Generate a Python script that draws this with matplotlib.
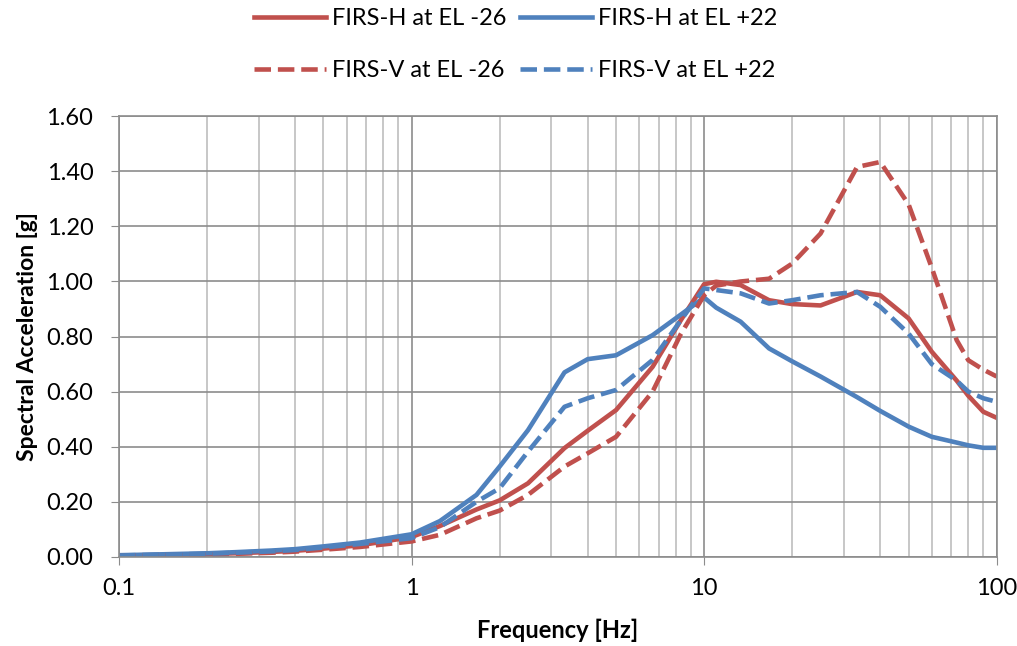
import numpy as np
import matplotlib
matplotlib.use("Agg")
import matplotlib.pyplot as plt
from matplotlib.ticker import FixedLocator, LogLocator, NullFormatter, FuncFormatter

plt.rcParams['font.family'] = ['Lato', 'DejaVu Sans']

# frequencies [Hz]
freq = [0.1, 0.125, 0.2, 0.25, 0.333, 0.4, 0.5, 0.667, 1.0, 1.25, 1.667, 2.0, 2.5,
        3.333, 4.0, 5.0, 6.667, 8.333, 10.0, 11.0, 13.33, 16.67, 20.0, 25.0, 33.33,
        40.0, 50.0, 60.0, 73.0, 80.0, 90.0, 100.0]

# spectral acceleration [g]
h_low = [0.005, 0.006, 0.010, 0.013, 0.018, 0.022, 0.030, 0.042, 0.072, 0.112, 0.172, 0.205,
         0.267, 0.395, 0.458, 0.533, 0.690, 0.860, 0.990, 0.999, 0.987, 0.932, 0.918, 0.913,
         0.962, 0.950, 0.866, 0.745, 0.640, 0.585, 0.527, 0.505]
h_up = [0.006, 0.008, 0.013, 0.017, 0.023, 0.028, 0.038, 0.052, 0.082, 0.130, 0.225, 0.328,
        0.460, 0.670, 0.718, 0.732, 0.805, 0.880, 0.942, 0.905, 0.854, 0.757, 0.710, 0.655,
        0.580, 0.530, 0.473, 0.436, 0.415, 0.405, 0.396, 0.396]
v_low = [0.004, 0.005, 0.008, 0.011, 0.015, 0.019, 0.026, 0.036, 0.056, 0.080, 0.140, 0.168,
         0.225, 0.328, 0.376, 0.436, 0.600, 0.810, 0.950, 0.985, 1.000, 1.010, 1.065, 1.174,
         1.416, 1.434, 1.280, 1.050, 0.787, 0.714, 0.680, 0.655]
v_up = [0.005, 0.007, 0.011, 0.015, 0.020, 0.025, 0.034, 0.047, 0.068, 0.108, 0.200, 0.249,
        0.382, 0.545, 0.576, 0.606, 0.715, 0.860, 0.975, 0.969, 0.957, 0.920, 0.932, 0.950,
        0.962, 0.908, 0.811, 0.700, 0.640, 0.600, 0.576, 0.563]

red = '#C0504D'
blue = '#4F81BD'
dash = (0, (3.6, 1.5))

fig = plt.figure(figsize=(10.17, 6.46), dpi=100)
ax = fig.add_axes([0.117, 0.138, 0.863, 0.682])

l1, = ax.plot(freq, h_low, color=red, lw=3.3, label='FIRS-H at EL -26')
l2, = ax.plot(freq, h_up, color=blue, lw=3.3, label='FIRS-H at EL +22')
l3, = ax.plot(freq, v_low, color=red, lw=3.3, ls=dash, label='FIRS-V at EL -26')
l4, = ax.plot(freq, v_up, color=blue, lw=3.3, ls=dash, label='FIRS-V at EL +22')

ax.set_xscale('log')
ax.set_xlim(0.1, 100)
ax.set_ylim(0, 1.6)
ax.yaxis.set_major_locator(FixedLocator(np.arange(0, 1.61, 0.2)))
ax.yaxis.set_major_formatter(FuncFormatter(lambda v, p: f'{v:.2f}'))
ax.xaxis.set_major_locator(FixedLocator([0.1, 1, 10, 100]))
ax.xaxis.set_major_formatter(FuncFormatter(lambda v, p: f'{v:g}'))
ax.xaxis.set_minor_locator(LogLocator(base=10, subs=np.arange(2, 10)))
ax.xaxis.set_minor_formatter(NullFormatter())

ax.grid(True, which='major', color='#8C8C8C', lw=1.2)
ax.grid(True, which='minor', axis='x', color='#BEBEBE', lw=1.2)
ax.set_axisbelow(True)
for s in ax.spines.values():
    s.set_color('#8C8C8C')
    s.set_linewidth(1.2)

ax.tick_params(axis='both', which='major', direction='out', length=5.5, color='#8C8C8C',
               labelsize=17)
ax.tick_params(axis='y', which='major', pad=13)
ax.tick_params(axis='x', which='major', pad=10)
ax.tick_params(axis='x', which='minor', length=0)

ax.set_xlabel('Frequency [Hz]', fontsize=17, fontweight='bold', labelpad=14)
ax.set_ylabel('Spectral Acceleration [g]', fontsize=16.5, fontweight='bold', labelpad=6)

fig.legend(handles=[l1, l3, l2, l4], ncol=2, loc='upper center', bbox_to_anchor=(0.507, 1.02),
           frameon=False, fontsize=17, handlelength=3.05, labelspacing=1.3,
           columnspacing=0.6, handletextpad=0.25)

fig.savefig('out.png', dpi=100)
